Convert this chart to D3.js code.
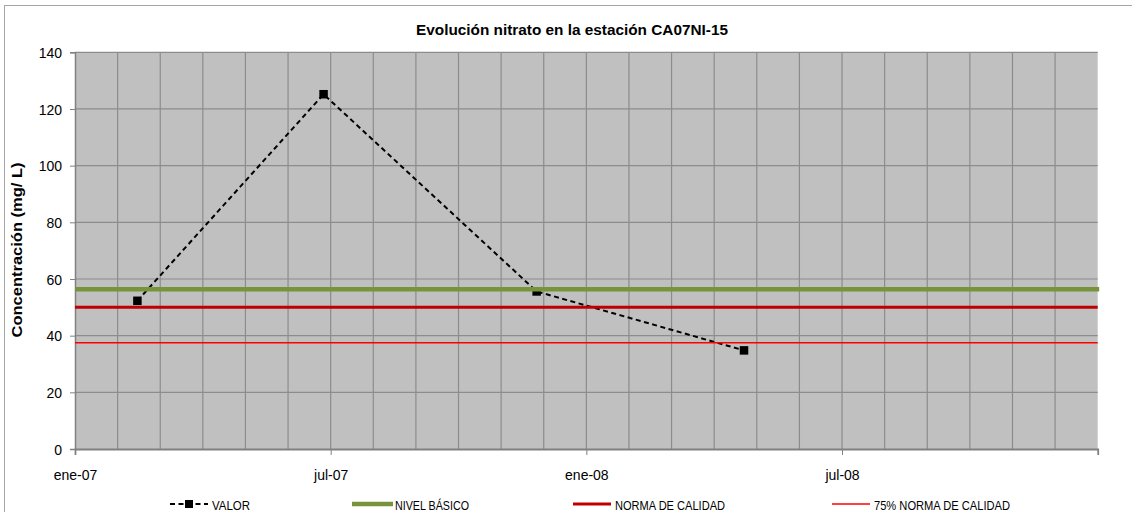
<!DOCTYPE html>
<html>
<head>
<meta charset="utf-8">
<script src="https://cdn.jsdelivr.net/npm/d3@7"></script>
<style>
  html, body { margin: 0; padding: 0; background: #ffffff; }
  svg { display: block; font-family: "Liberation Sans", Arial, sans-serif; }
</style>
</head>
<body>
<svg id="chart" width="1132" height="512"></svg>
<script>
// ---- data ----
const title = "Evolución nitrato en la estación CA07NI-15";
const yTitle = "Concentración (mg/ L)";
const sampleDates = ["2007-02-14", "2007-06-26", "2007-11-26", "2008-04-22"];
const valor = [52.3, 125.2, 55.6, 34.8];
const nivelBasico = 56.4;
const normaCalidad = 50;
const norma75 = 37.5;
const yTicks = [0, 20, 40, 60, 80, 100, 120, 140];
const xTickMonths = [0, 6, 12, 18];
const xTickLabels = ["ene-07", "jul-07", "ene-08", "jul-08"];
const legendLabels = ["VALOR", "NIVEL BÁSICO", "NORMA DE CALIDAD", "75% NORMA DE CALIDAD"];

// month index since Jan 2007 (fractional)
function monthIndex(s) {
  const [yy, mm, dd] = s.split("-").map(Number);
  const dim = new Date(yy, mm, 0).getDate();
  return (yy - 2007) * 12 + (mm - 1) + (dd - 1) / dim;
}

const svg = d3.select("#chart");
const pLeft = 75, pRight = 1097.7, pTop = 52.3, pBottom = 449;

const x = d3.scaleLinear().domain([0, 24]).range([pLeft, pRight]);
const y = d3.scaleLinear().domain([0, 140]).range([pBottom, pTop]);

// outer chart border (partially visible)
svg.append("rect")
  .attr("x", 4.5).attr("y", 5.5).attr("width", 1140).attr("height", 520)
  .attr("fill", "none").attr("stroke", "#a6a6a6").attr("stroke-width", 1);

// plot background
svg.append("rect")
  .attr("x", pLeft).attr("y", pTop).attr("width", pRight - pLeft).attr("height", pBottom - pTop)
  .attr("fill", "#c0c0c0");

// vertical grid (monthly)
svg.append("g").selectAll("line")
  .data(d3.range(1, 24))
  .join("line")
  .attr("x1", d => x(d)).attr("x2", d => x(d))
  .attr("y1", pTop).attr("y2", pBottom)
  .attr("stroke", "#8c8c8c").attr("stroke-width", 1.2);

// horizontal grid
svg.append("g").selectAll("line")
  .data(yTicks.filter(d => d > 0))
  .join("line")
  .attr("x1", pLeft).attr("x2", pRight)
  .attr("y1", d => y(d)).attr("y2", d => y(d))
  .attr("stroke", "#8c8c8c").attr("stroke-width", 1.2);

// axes
const yAxis = d3.axisLeft(y).tickValues(yTicks).tickSize(5).tickPadding(8);
const gy = svg.append("g").attr("transform", `translate(${pLeft},0)`).call(yAxis);
gy.select(".domain").attr("stroke", "#808080").attr("stroke-width", 1.5);
gy.selectAll(".tick line").attr("stroke", "#808080");
gy.selectAll(".tick text")
  .attr("font-size", 14).attr("fill", "#000")
  .attr("font-family", "Liberation Sans, Arial, sans-serif")
  .attr("dy", "0.38em");

const xAxis = d3.axisBottom(x).tickValues(xTickMonths)
  .tickFormat((d, i) => xTickLabels[i]).tickSize(6).tickPadding(15);
const gx = svg.append("g").attr("transform", `translate(0,${pBottom})`).call(xAxis);
gx.select(".domain").attr("stroke", "#808080").attr("stroke-width", 1.8);
gx.selectAll(".tick line").attr("stroke", "#808080");
gx.selectAll(".tick text")
  .attr("font-size", 14).attr("fill", "#000")
  .attr("font-family", "Liberation Sans, Arial, sans-serif");

// VALOR series
const pts = sampleDates.map((d, i) => ({ m: monthIndex(d), v: valor[i] }));
const line = d3.line().x(d => x(d.m)).y(d => y(d.v));
svg.append("path").datum(pts)
  .attr("d", line).attr("fill", "none")
  .attr("stroke", "#000").attr("stroke-width", 2).attr("stroke-dasharray", "5,3.5");
const ms = 8.5;
svg.append("g").selectAll("rect").data(pts).join("rect")
  .attr("x", d => x(d.m) - ms / 2).attr("y", d => y(d.v) - ms / 2)
  .attr("width", ms).attr("height", ms).attr("fill", "#000");

// reference lines
const refs = [
  { v: nivelBasico, color: "#77933c", w: 4.5 },
  { v: normaCalidad, color: "#c00000", w: 3 },
  { v: norma75, color: "#ff0000", w: 1.5 }
];
svg.append("g").selectAll("line").data(refs).join("line")
  .attr("x1", pLeft).attr("x2", d => d.w > 4 ? pRight + 1.5 : pRight)
  .attr("y1", d => y(d.v)).attr("y2", d => y(d.v))
  .attr("stroke", d => d.color).attr("stroke-width", d => d.w);

// title
svg.append("text")
  .attr("x", 572).attr("y", 35).attr("text-anchor", "middle")
  .attr("font-size", 14.5).attr("font-weight", "bold")
  .attr("textLength", 312).attr("lengthAdjust", "spacingAndGlyphs")
  .text(title);

// y title
svg.append("text")
  .attr("transform", "translate(22,250) rotate(-90)")
  .attr("text-anchor", "middle")
  .attr("font-size", 14.5).attr("font-weight", "bold")
  .attr("textLength", 175).attr("lengthAdjust", "spacingAndGlyphs")
  .text(yTitle);

// legend
const legend = [
  { x0: 170, x1: 208, tx: 212, tw: 38, type: "valor" },
  { x0: 352, x1: 393, tx: 395, tw: 74, color: "#77933c", w: 4.5 },
  { x0: 573, x1: 611, tx: 615, tw: 110, color: "#c00000", w: 3 },
  { x0: 832, x1: 870, tx: 874, tw: 136, color: "#ff0000", w: 1.3 }
];
const ly = 504;
legend.forEach((d, i) => {
  if (d.type === "valor") {
    svg.append("line").attr("x1", d.x0).attr("x2", d.x1).attr("y1", ly).attr("y2", ly)
      .attr("stroke", "#000").attr("stroke-width", 2).attr("stroke-dasharray", "5,3.5");
    svg.append("rect").attr("x", (d.x0 + d.x1) / 2 - 4).attr("y", ly - 4)
      .attr("width", 8).attr("height", 8).attr("fill", "#000");
  } else {
    svg.append("line").attr("x1", d.x0).attr("x2", d.x1).attr("y1", ly).attr("y2", ly)
      .attr("stroke", d.color).attr("stroke-width", d.w);
  }
  svg.append("text").attr("x", d.tx).attr("y", 509.5)
    .attr("font-size", 13.5)
    .attr("textLength", d.tw).attr("lengthAdjust", "spacingAndGlyphs")
    .text(legendLabels[i]);
});
</script>
</body>
</html>
